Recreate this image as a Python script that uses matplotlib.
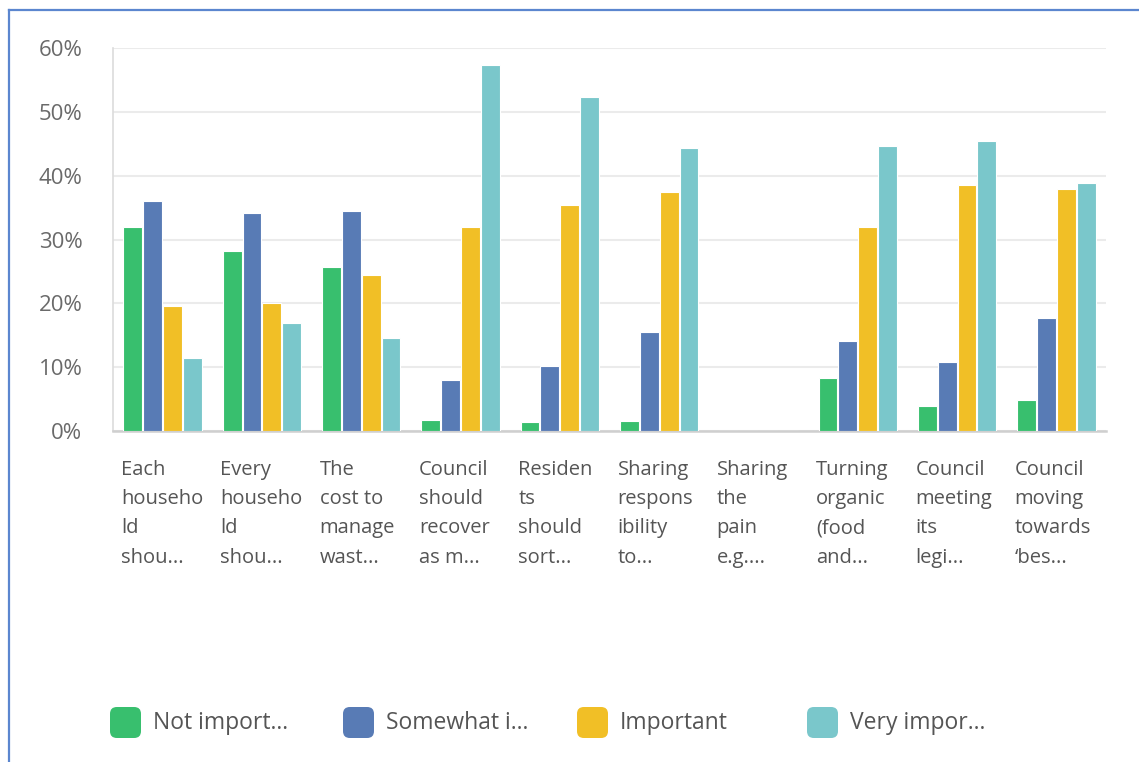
import numpy as np
import matplotlib.pyplot as plt
from matplotlib.patches import FancyBboxPatch
from matplotlib.lines import Line2D

plt.rcParams['font.family'] = ['Open Sans', 'DejaVu Sans']

categories = [
    "Each\nhouseho\nld\nshou...",
    "Every\nhouseho\nld\nshou...",
    "The\ncost to\nmanage\nwast...",
    "Council\nshould\nrecover\nas m...",
    "Residen\nts\nshould\nsort...",
    "Sharing\nrespons\nibility\nto...",
    "Sharing\nthe\npain\ne.g....",
    "Turning\norganic\n(food\nand...",
    "Council\nmeeting\nits\nlegi...",
    "Council\nmoving\ntowards\n\u2018bes...",
]
series_names = ["Not import...", "Somewhat i...", "Important", "Very impor..."]
not_important = [31.9, 28.2, 25.7, 1.7, 1.3, 1.6, 0, 8.3, 3.9, 4.8]
somewhat_important = [36.0, 34.2, 34.4, 7.9, 10.1, 15.5, 0, 14.0, 10.8, 17.7]
important = [19.5, 20.0, 24.4, 31.9, 35.4, 37.5, 0, 31.9, 38.5, 37.9]
very_important = [11.4, 16.9, 14.6, 57.4, 52.3, 44.3, 0, 44.6, 45.4, 38.8]
yticks = [0, 10, 20, 30, 40, 50, 60]

colors = ["#38BF6E", "#587BB5", "#F1BF26", "#7AC7CB"]
series = [not_important, somewhat_important, important, very_important]

W, H = 1139, 762
fig = plt.figure(figsize=(W / 100, H / 100), dpi=100)
ax = fig.add_axes([113 / W, 1 - 430.7 / H, (1106 - 113) / W, (430.7 - 48.3) / H])

x = np.arange(len(categories))
for i, (vals, col) in enumerate(zip(series, colors)):
    ax.bar(x + (i - 1.5) * 0.2, vals, width=0.19, color=col,
           edgecolor="white", linewidth=0.8, zorder=3)

ax.set_xlim(-0.5, len(categories) - 0.5)
ax.set_ylim(0, 60)
ax.set_yticks(yticks)
ax.set_yticklabels([f"{t}%" for t in yticks], fontsize=16, color="#6a6a6a")
ax.yaxis.grid(True, color="#ebebeb", linewidth=1.5, zorder=0)
ax.tick_params(axis="y", length=0, pad=22)

ax.set_xticks(x - 0.42)
ax.set_xticklabels(categories, ha="left", va="top", fontsize=14.5,
                   color="#555555", linespacing=1.62)
ax.tick_params(axis="x", length=0, pad=21)

for s in ["top", "right"]:
    ax.spines[s].set_visible(False)
ax.spines["left"].set_color("#dcdcdc")
ax.spines["left"].set_linewidth(1.2)
ax.spines["bottom"].set_color("#cfcfcf")
ax.spines["bottom"].set_linewidth(1.8)

# legend boxes
leg_x = [110, 343, 577, 807]
for lx, name, col in zip(leg_x, series_names, colors):
    box = FancyBboxPatch((lx / W, 1 - 738 / H), 31 / W, 31 / H,
                         boxstyle="round,pad=0,rounding_size=0.006",
                         transform=fig.transFigure, facecolor=col,
                         edgecolor="none", mutation_aspect=W / H)
    fig.patches.append(box)
    fig.text((lx + 43) / W, 1 - 723 / H, name, fontsize=16.5,
             color="#555555", va="center", ha="left")

# panel border
fig.add_artist(Line2D([9 / W, 9 / W], [1 - 10 / H, 0], color="#5b86cf",
                      linewidth=1.6, transform=fig.transFigure))
fig.add_artist(Line2D([9 / W, 1], [1 - 10 / H, 1 - 10 / H], color="#5b86cf",
                      linewidth=1.6, transform=fig.transFigure))

fig.savefig("out.png", dpi=100)
